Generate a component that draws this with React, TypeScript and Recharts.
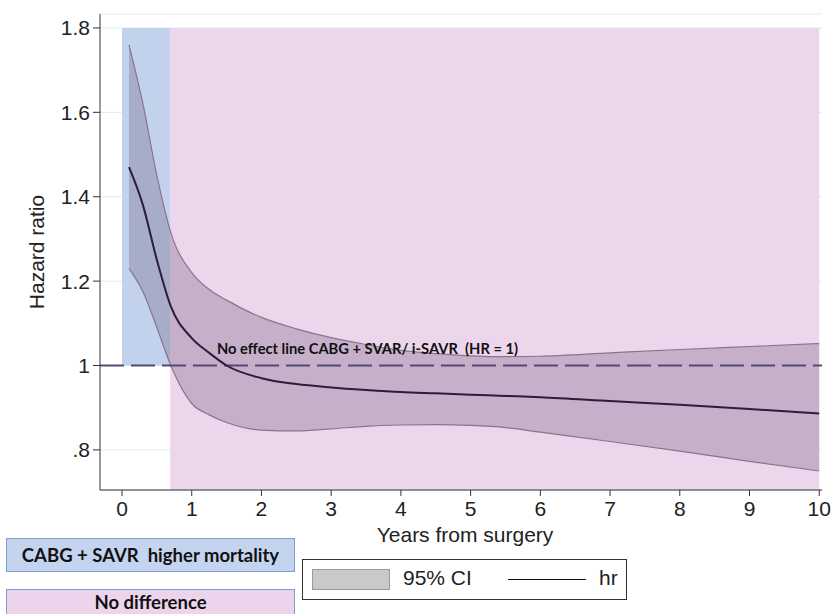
import React from 'react';
import { ComposedChart, Area, Line, XAxis, YAxis, CartesianGrid, ReferenceArea, ReferenceLine } from 'recharts';

// years from surgery
const years = [0.1, 0.3, 0.5, 0.7, 1, 1.25, 1.5, 2, 2.5, 3, 3.5, 4, 4.5, 5, 5.5, 6, 7, 8, 9, 10];
// hazard ratio estimate
const hr = [1.47, 1.38, 1.25, 1.14, 1.065, 1.03, 1.0, 0.97, 0.956, 0.948, 0.942, 0.937, 0.934, 0.931, 0.928, 0.925, 0.916, 0.907, 0.897, 0.886];
// 95% CI bounds
const ciUpper = [1.76, 1.62, 1.45, 1.315, 1.22, 1.18, 1.155, 1.114, 1.087, 1.066, 1.05, 1.036, 1.028, 1.023, 1.021, 1.022, 1.03, 1.038, 1.045, 1.052];
const ciLower = [1.23, 1.175, 1.09, 1.0, 0.91, 0.883, 0.865, 0.847, 0.845, 0.85, 0.856, 0.859, 0.86, 0.858, 0.853, 0.842, 0.82, 0.797, 0.773, 0.75];

const xTicks = [0, 1, 2, 3, 4, 5, 6, 7, 8, 9, 10];
const yTicks = [0.8, 1, 1.2, 1.4, 1.6, 1.8];

const rows = years.map((t, i) => ({ t, hr: hr[i], ci: [ciLower[i], ciUpper[i]] }));

const FONT = '"Liberation Sans", Arial, sans-serif';
const BOLD = 'Lato, "Open Sans", sans-serif';

const fmtY = (v: number) => (v < 1 ? String(v).replace('0.', '.') : String(v));

export default function App() {
    return (
        <div style={{ position: 'absolute', left: 0, top: 0, width: 831, height: 614, background: '#fff', overflow: 'hidden', fontFamily: FONT }}>
            <ComposedChart width={831} height={614} data={rows} margin={{ top: 14, right: 9, bottom: 94, left: 20 }}>
                <CartesianGrid horizontal vertical={false} stroke="#dfecef" />
                {/* shaded regions */}
                <ReferenceArea x1={0.69} x2={10} y1={0.705} y2={1.8} fill="#ecd6ec" fillOpacity={1} stroke="none" ifOverflow="hidden" />
                <ReferenceArea x1={0} x2={0.69} y1={1} y2={1.8} fill="#c3d2ec" fillOpacity={1} stroke="none" ifOverflow="hidden" />
                <XAxis
                    dataKey="t"
                    type="number"
                    domain={[-0.316, 10.04]}
                    allowDataOverflow
                    ticks={xTicks}
                    tickSize={6}
                    tickMargin={5}
                    height={30}
                    stroke="#333"
                    tick={{ fill: '#222', fontSize: 21, fontFamily: FONT }}
                    label={() => (
                        <text x={465} y={542} textAnchor="middle" fill="#222" fontSize={21} fontFamily={FONT}>Years from surgery</text>
                    )}
                />
                <YAxis
                    type="number"
                    domain={[0.705, 1.833]}
                    allowDataOverflow
                    ticks={yTicks}
                    tickFormatter={fmtY}
                    width={80}
                    tickSize={7}
                    tickMargin={3}
                    stroke="#333"
                    tick={{ fill: '#222', fontSize: 21, fontFamily: FONT }}
                    label={() => (
                        <text x={36} y={252} transform="rotate(-90 36 252)" textAnchor="middle" dominantBaseline="central" fill="#222" fontSize={21} fontFamily={FONT}>Hazard ratio</text>
                    )}
                />
                <Area
                    dataKey="ci"
                    type="monotone"
                    fill="#5e486a"
                    fillOpacity={0.27}
                    stroke="#8a7490"
                    strokeWidth={1.2}
                    isAnimationActive={false}
                />
                <ReferenceLine y={1} stroke="#54487a" strokeWidth={2} strokeDasharray="24 7" />
                <Line dataKey="hr" type="monotone" stroke="#2b1d3f" strokeWidth={2} dot={false} isAnimationActive={false} />
            </ComposedChart>

            {/* reference line note */}
            <div style={{ position: 'absolute', left: 217, top: 339, fontFamily: BOLD, fontWeight: 700, fontSize: 14.7, color: '#111', whiteSpace: 'pre' }}>
                {'No effect line CABG + SVAR/ i-SAVR  (HR = 1)'}
            </div>

            {/* legend */}
            <div style={{ position: 'absolute', left: 302, top: 559, width: 325, height: 41, border: '1.5px solid #333', background: '#fff', boxSizing: 'border-box' }}>
                <div style={{ position: 'absolute', left: 9, top: 9, width: 78, height: 21, background: '#c9c9c9', border: '1px solid #9a9a9a', boxSizing: 'border-box' }} />
                <div style={{ position: 'absolute', left: 100, top: 6, fontSize: 21, color: '#222' }}>95% CI</div>
                <div style={{ position: 'absolute', left: 205, top: 19, width: 78, height: 0, borderTop: '1.5px solid #111' }} />
                <div style={{ position: 'absolute', left: 296, top: 6, fontSize: 21, color: '#222' }}>hr</div>
            </div>

            {/* region key boxes */}
            <div style={{ position: 'absolute', left: 6, top: 538, width: 289, height: 34, background: '#c5d4ee', border: '1.5px solid #7e9dd3', boxSizing: 'border-box', display: 'flex', alignItems: 'center', justifyContent: 'center', fontFamily: BOLD, fontWeight: 700, fontSize: 18.5, color: '#111', whiteSpace: 'pre' }}>
                {'CABG + SAVR  higher mortality'}
            </div>
            <div style={{ position: 'absolute', left: 6, top: 589, width: 289, height: 34, background: '#ecd5ec', border: '1.5px solid #7e9dd3', boxSizing: 'border-box', display: 'flex', justifyContent: 'center', paddingTop: 1, fontFamily: BOLD, fontWeight: 700, fontSize: 18.5, color: '#111' }}>
                No difference
            </div>
        </div>
    );
}
